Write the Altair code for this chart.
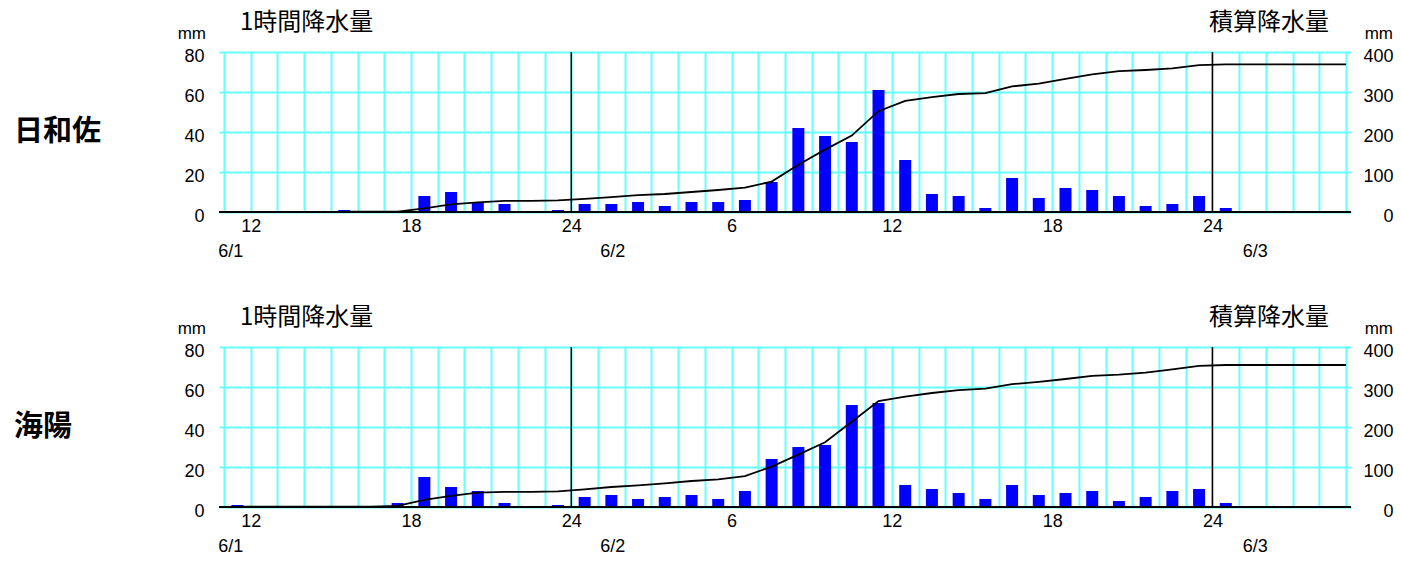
import altair as alt
import pandas as pd

# start hour of each 1-hour cell, counted from 6/1 0:00 (11 = 6/1 11:00 ... 52 = 6/3 04:00)
hours = list(range(11, 53))

stations = ["日和佐", "海陽"]
hiwasa_rain = [0, 0, 0, 0, 1, 0, 0, 8, 10, 5, 4, 0, 1, 4, 4, 5, 3, 5, 5, 6,
               15, 42, 38, 35, 61, 26, 9, 8, 2, 17, 7, 12, 11, 8, 3, 4, 8, 2,
               0, 0, 0, 0]
kaiyo_rain = [1, 0, 0, 0, 0, 0, 2, 15, 10, 8, 2, 0, 1, 5, 6, 4, 5, 6, 4, 8,
              24, 30, 31, 51, 52, 11, 9, 7, 4, 11, 6, 7, 8, 3, 5, 8, 9, 2,
              0, 0, 0, 0]

left_title = "1時間降水量"
right_title = "積算降水量"
unit_label = "mm"
left_ticks = [0, 20, 40, 60, 80]
right_ticks = [0, 100, 200, 300, 400]
grid_hours = list(range(11, 54))
day_lines = [24, 48]
date_labels = ["6/1", "6/2", "6/3"]
date_pos = [11.25, 25.55, 49.6]

CYAN = "#66ffff"
BLUE = "#0000ff"
NUM_FONT = "Liberation Sans"
JP_FONT = "Noto Sans CJK JP"
W, H = 1132, 160
RPAD = 42


def panel(station, rain):
    df = pd.DataFrame({"hour": hours, "rain": rain})
    xscale = alt.Scale(domain=[11, 53], nice=False, zero=False)
    xaxis = alt.Axis(
        values=grid_hours, tickCount=200, grid=True, gridColor=CYAN, gridWidth=2, gridOpacity=1,
        ticks=False, domain=False, labelOverlap=False, labelFlush=False,
        labelExpr="datum.value % 6 == 0 ? (datum.value % 24 == 0 ? '24' : '' + (datum.value % 24)) : ''",
        labelFont=NUM_FONT, labelFontSize=18, labelColor="black", labelPadding=5,
    )
    bars = (
        alt.Chart(df)
        .transform_filter("datum.rain > 0")
        .transform_calculate(xc="datum.hour + 0.5")
        .mark_bar(size=12, color=BLUE)
        .encode(
            x=alt.X("xc:Q", scale=xscale, axis=xaxis, title=""),
            y=alt.Y(
                "rain:Q",
                scale=alt.Scale(domain=[0, 80], nice=False),
                axis=alt.Axis(
                    values=left_ticks, tickCount=50, grid=True, gridColor=CYAN, gridWidth=2,
                    gridOpacity=1, ticks=False, domain=False, labelOverlap=False,
                    labelFont=NUM_FONT, labelFontSize=18,
                    labelColor="black", labelPadding=15, labelOffset=4,
                ),
                title="",
            ),
        )
    )
    baseline = (
        alt.Chart(pd.DataFrame({"v": [0]}))
        .mark_rule(color="black", strokeWidth=2)
        .encode(y=alt.datum(0))
    )
    days = (
        alt.Chart(pd.DataFrame({"day": day_lines}))
        .mark_rule(color="black", strokeWidth=1.5)
        .encode(x=alt.X("day:Q", scale=xscale, title=""))
    )
    one = pd.DataFrame({"t": [0]})
    t_left = alt.Chart(one).mark_text(
        text=left_title, font=JP_FONT, fontSize=24, align="left", baseline="middle", color="black"
    ).encode(x=alt.value(21), y=alt.value(-29))
    t_right = alt.Chart(one).mark_text(
        text=right_title, font=JP_FONT, fontSize=24, align="left", baseline="middle", color="black"
    ).encode(x=alt.value(990), y=alt.value(-29))
    mm_left = alt.Chart(one).mark_text(
        text=unit_label, font=NUM_FONT, fontSize=17, align="right", baseline="alphabetic", color="black"
    ).encode(x=alt.value(-13), y=alt.value(-13))
    mm_right = alt.Chart(one).mark_text(
        text=unit_label, font=NUM_FONT, fontSize=17, align="right", baseline="alphabetic", color="black"
    ).encode(x=alt.value(W + RPAD), y=alt.value(-13))
    st = alt.Chart(one).mark_text(
        text=station, font=JP_FONT, fontSize=29, fontWeight="bold", align="left",
        baseline="middle", color="black"
    ).encode(x=alt.value(-205), y=alt.value(80))
    dates = (
        alt.Chart(pd.DataFrame({"label": date_labels, "pos": date_pos}))
        .mark_text(font=NUM_FONT, fontSize=18, align="center", baseline="middle", color="black")
        .encode(x=alt.X("pos:Q", scale=xscale, title=""), y=alt.value(200), text="label:N")
    )
    line = (
        alt.Chart(df)
        .transform_window(cum="sum(rain)", sort=[{"field": "hour"}])
        .transform_filter("datum.cum > 0")
        .transform_calculate(xc="datum.hour == 52 ? 53 : datum.hour + 0.5")
        .mark_line(color="black", strokeWidth=1.8)
        .encode(
            x=alt.X("xc:Q", scale=xscale, title=""),
            y=alt.Y(
                "cum:Q",
                scale=alt.Scale(domain=[0, 400], nice=False),
                axis=alt.Axis(
                    orient="right", values=right_ticks, tickCount=50, grid=False, ticks=False,
                    domain=False, labelOverlap=False,
                    labelFont=NUM_FONT, labelFontSize=18, labelColor="black",
                    labelAlign="right", labelPadding=RPAD, labelOffset=4,
                ),
                title="",
            ),
        )
    )
    inner = alt.layer(bars, baseline, days, t_left, t_right, mm_left, mm_right, st, dates)
    return alt.layer(inner, line).resolve_scale(y="independent").properties(width=W, height=H)


chart = (
    alt.vconcat(panel(stations[0], hiwasa_rain), panel(stations[1], kaiyo_rain),
                spacing=135, bounds="flush")
    .properties(padding={"left": 6, "top": 3, "right": 0, "bottom": 0}, background="white")
    .configure_view(strokeWidth=0)
)

chart.save("out.html", embed_options={"renderer": "svg", "actions": False})
